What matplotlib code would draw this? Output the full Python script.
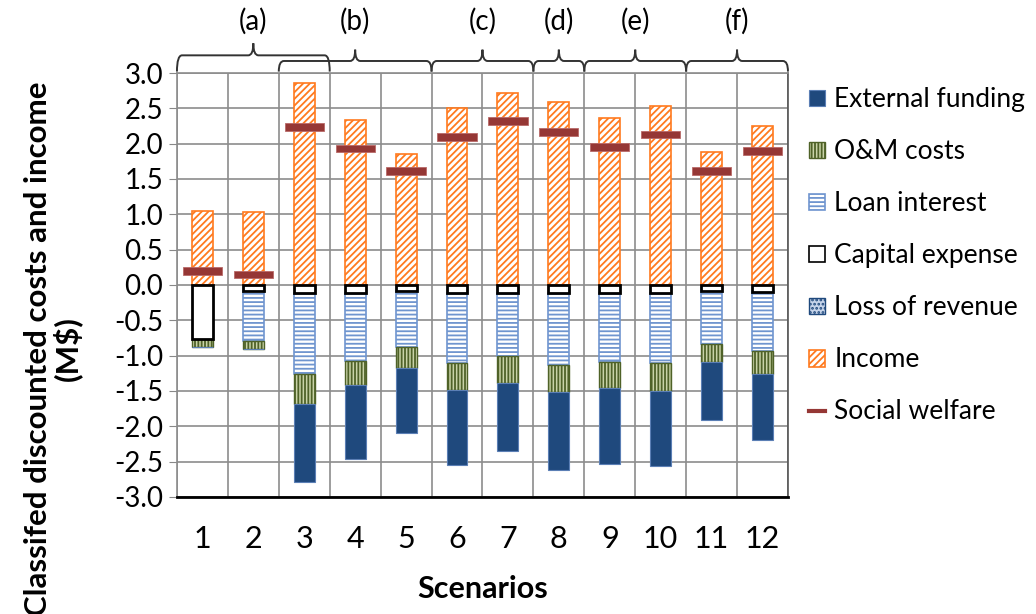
import numpy as np
import matplotlib.pyplot as plt
import matplotlib.patches as mpatches
from matplotlib.path import Path
from matplotlib.lines import Line2D

plt.rcParams['font.family'] = ['Lato', 'DejaVu Sans']
plt.rcParams['hatch.linewidth'] = 1.3

# シナリオ別のデータ (M$)
scenarios = ['1', '2', '3', '4', '5', '6', '7', '8', '9', '10', '11', '12']
income = [1.05, 1.04, 2.86, 2.34, 1.85, 2.51, 2.72, 2.59, 2.36, 2.54, 1.88, 2.25]
welfare = [0.20, 0.15, 2.24, 1.93, 1.61, 2.09, 2.32, 2.16, 1.95, 2.13, 1.61, 1.90]
capital = [0.76, 0.09, 0.11, 0.11, 0.09, 0.11, 0.11, 0.11, 0.11, 0.11, 0.09, 0.10]
loan = [0.00, 0.70, 1.15, 0.96, 0.79, 1.00, 0.90, 1.02, 0.98, 1.00, 0.75, 0.84]
loss_rev = [0, 0, 0, 0, 0, 0, 0, 0, 0, 0, 0, 0]
om = [0.12, 0.11, 0.43, 0.35, 0.29, 0.37, 0.37, 0.39, 0.37, 0.39, 0.25, 0.32]
external = [0.00, 0.00, 1.10, 1.04, 0.93, 1.07, 0.97, 1.10, 1.07, 1.06, 0.82, 0.93]

# 上部の括弧グループ
groups = ['(a)', '(b)', '(c)', '(d)', '(e)', '(f)']
group_first = [1, 3, 6, 8, 9, 11]
group_last = [3, 5, 7, 8, 10, 12]

fig = plt.figure(figsize=(10.36, 6.14), dpi=100)
ax = fig.add_axes([0.1708, 0.1906, 0.5898, 0.6905])

x = np.arange(1, len(scenarios) + 1)
w = 0.41

# 収入（正側）
ax.bar(x, income, width=w, color='white', edgecolor='#ff7a1f', hatch='/////',
       linewidth=1.2, zorder=3)

# コスト（負側に積み上げ）
cap = np.array(capital)
bottom = -cap
ax.bar(x, -np.array(loan), bottom=bottom, width=w, color='white',
       edgecolor='#6f95cf', hatch='----', linewidth=1.2, zorder=3)
bottom = bottom - np.array(loan)
ax.bar(x, -np.array(loss_rev), bottom=bottom, width=w, color='#c6d4ea',
       edgecolor='#1f497d', hatch='....', linewidth=0, zorder=3)
bottom = bottom - np.array(loss_rev)
ax.bar(x, -np.array(om), bottom=bottom, width=w, color='#c9d3a8',
       edgecolor='#4f6228', hatch='|||||', linewidth=1.0, zorder=3)
bottom = bottom - np.array(om)
ax.bar(x, -np.array(external), bottom=bottom, width=w, color='#1f497d',
       edgecolor='#5b7fb5', linewidth=0.8, zorder=3)
ax.bar(x, -cap, width=w, color='white', edgecolor='black', linewidth=2.0, zorder=4)

# 社会厚生
ax.bar(x, 0.11, bottom=np.array(welfare) - 0.055, width=0.77, color='#953735',
       edgecolor='#b96a68', linewidth=0.6, zorder=5)

ax.set_xlim(0.5, 12.5)
ax.set_ylim(-3.0, 3.0)
yt = np.arange(-3.0, 3.01, 0.5)
ax.set_yticks(yt)
ax.set_yticklabels(['%.1f' % abs(v) if abs(v) < 1e-9 else '%.1f' % v for v in yt], fontsize=20)
ax.set_xticks(x)
ax.set_xticklabels(scenarios, fontsize=22)
ax.set_xticks(np.arange(0.5, 12.6, 1.0), minor=True)
ax.tick_params(axis='x', which='both', length=0, pad=20)
ax.tick_params(axis='y', length=6, color='#888888', pad=4)

ax.grid(axis='y', color='#8c8c8c', linewidth=1.2)
ax.grid(axis='x', which='minor', color='#8c8c8c', linewidth=1.2)
ax.set_axisbelow(True)
for s in ['left', 'top', 'right']:
    ax.spines[s].set_color('#8c8c8c')
    ax.spines[s].set_linewidth(1.2)
ax.spines['right'].set_color('#555555')
ax.spines['bottom'].set_color('black')
ax.spines['bottom'].set_linewidth(2)

ax.set_xlabel('Scenarios', fontsize=22, fontweight='bold', labelpad=16)
ax.set_ylabel('Classifed discounted costs and income\n(M$)', fontsize=22.5,
              fontweight='bold', linespacing=1.0)
ax.yaxis.set_label_coords(-0.155, 0.35)


# 括弧を描く
def brace(ax, x0, x1, yb, yt, yp, r=0.1):
    xm = (x0 + x1) / 2
    verts = [(x0, yb), (x0, yt), (x0 + r, yt), (xm - r, yt), (xm, yt), (xm, yp),
             (xm, yt), (xm + r, yt), (x1 - r, yt), (x1, yt), (x1, yb)]
    codes = [Path.MOVETO, Path.CURVE3, Path.CURVE3, Path.LINETO, Path.CURVE3, Path.CURVE3,
             Path.CURVE3, Path.CURVE3, Path.LINETO, Path.CURVE3, Path.CURVE3]
    p = mpatches.PathPatch(Path(verts, codes), fill=False, edgecolor='#333333',
                           linewidth=1.4, clip_on=False)
    ax.add_patch(p)


for i, g in enumerate(groups):
    x0 = group_first[i] - 0.5
    x1 = group_last[i] + 0.5
    if i == 0:
        brace(ax, x0, x1, 3.02, 3.25, 3.42)
    else:
        brace(ax, x0, x1, 3.02, 3.17, 3.33)
    ax.text((x0 + x1) / 2, 3.73, g, ha='center', va='center', fontsize=20, clip_on=False)

# 凡例
handles = [
    mpatches.Patch(facecolor='#1f497d', edgecolor='#5b7fb5', linewidth=0.8),
    mpatches.Patch(facecolor='#c9d3a8', edgecolor='#4f6228', hatch='|||||', linewidth=1.0),
    mpatches.Patch(facecolor='white', edgecolor='#6f95cf', hatch='----', linewidth=1.2),
    mpatches.Patch(facecolor='white', edgecolor='black', linewidth=1.2),
    mpatches.Patch(facecolor='#c6d4ea', edgecolor='#1f497d', hatch='....', linewidth=1.0),
    mpatches.Patch(facecolor='white', edgecolor='#ff7a1f', hatch='/////', linewidth=1.2),
    Line2D([], [], color='#953735', linewidth=3),
]
labels = ['External funding', 'O&M costs', 'Loan interest', 'Capital expense',
          'Loss of revenue', 'Income', 'Social welfare']
fig.legend(handles, labels, loc='upper left', bbox_to_anchor=(0.781, 0.858),
           frameon=False, fontsize=19, handlelength=0.6, handleheight=0.6,
           handletextpad=0.35, labelspacing=1.025, borderpad=0, borderaxespad=0)

fig.savefig('out.png', dpi=100)
